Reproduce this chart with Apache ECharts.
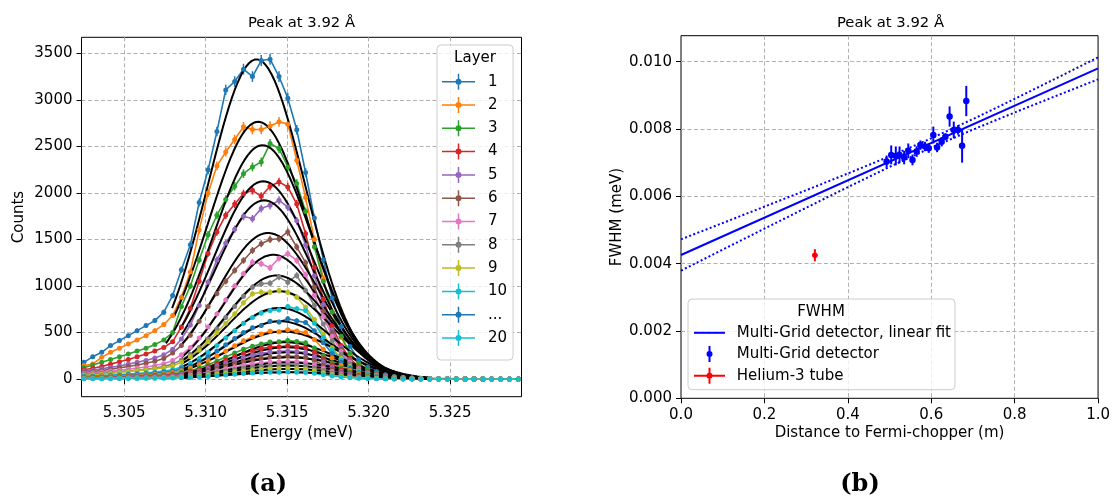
<!DOCTYPE html>
<html>
<head>
<meta charset="utf-8">
<title>Peak at 3.92 Å</title>
<script src="https://cdn.jsdelivr.net/npm/echarts@6.0.0/dist/echarts.min.js"></script>
<style>
html, body { margin: 0; padding: 0; background: #ffffff; }
#chart { width: 1113px; height: 500px; }
</style>
</head>
<body>
<div id="chart"></div>
<script>
// ---------- Panel (a): counts per layer versus energy ----------
const energies = [
  5.30253, 5.30307, 5.30362, 5.30416, 5.30471, 5.30525, 5.30579, 5.30634, 5.30688, 5.30743,
  5.30797, 5.30851, 5.30906, 5.30960, 5.31015, 5.31069, 5.31123, 5.31178, 5.31232, 5.31287,
  5.31341, 5.31395, 5.31450, 5.31504, 5.31559, 5.31613, 5.31667, 5.31722, 5.31776, 5.31831,
  5.31885, 5.31939, 5.31994, 5.32048, 5.32103, 5.32157, 5.32211, 5.32266, 5.32320, 5.32375,
  5.32429, 5.32483, 5.32538, 5.32592, 5.32647, 5.32701, 5.32755, 5.32810, 5.32864, 5.32919
];

const layer1Counts = [179,240,287,359,413,466,520,574,628,718, 897,1174,1442,1897,2248,2660,3107,3197,3330,3250, 3422,3437,3250,3018,2678,2219,1729,1281,870,565, 350,207,129,82,46,28,18,12,8,6, 5,4,3,3,2,2,2,1,1,1];
const layer2Counts = [144,162,233,287,330,377,420,466,520,585, 682,880,1150,1600,2000,2290,2440,2574,2710,2681, 2681,2717,2764,2739,2351,1950,1500,1080,720,450, 270,160,95,58,35,22,14,9,6,4, 3,3,2,2,2,1,1,1,1,1];
const layer3Counts = [122,150,180,210,240,270,300,330,370,420, 500,780,1000,1280,1550,1760,1930,2071,2207,2279, 2333,2530,2477,2279,2100,1800,1420,1050,720,460, 280,170,100,62,38,24,15,10,6,4, 3,3,2,2,2,1,1,1,1,1];
const layer4Counts = [100,115,135,160,185,210,240,270,300,340, 400,560,760,1050,1350,1580,1760,1880,1990,2028, 1963,2071,2118,2064,1880,1560,1200,860,570,360, 220,130,78,48,30,19,12,8,5,4, 3,2,2,2,1,1,1,1,1,1];
const layer5Counts = [85,95,110,125,140,160,180,200,225,260, 320,430,580,790,1040,1280,1460,1610,1748,1723, 1831,1866,1920,1848,1700,1440,1110,800,530,335, 205,122,74,45,28,18,11,7,5,3, 2,2,2,1,1,1,1,1,1,1];
const layer6Counts = [70,80,90,105,120,135,150,170,190,220, 280,360,470,620,780,920,1050,1167,1274,1382, 1454,1500,1508,1580,1418,1250,990,730,500,320, 198,120,73,45,28,18,11,7,5,3, 2,2,2,1,1,1,1,1,1,1];
const layer7Counts = [60,68,76,85,95,105,118,130,145,165, 200,260,340,440,560,700,850,1000,1130,1256, 1238,1195,1299,1346,1274,1120,900,670,460,295, 182,110,66,40,25,16,10,6,4,3, 2,2,1,1,1,1,1,1,1,1];
const layer8Counts = [50,55,62,70,78,86,95,105,118,135, 160,205,265,340,430,540,660,780,890,987, 1023,1030,1095,1041,1113,951,790,590,410,265, 165,100,60,37,23,15,9,6,4,3, 2,2,1,1,1,1,1,1,1,1];
const layer9Counts = [40,45,52,60,70,80,90,100,110,120, 140,180,240,310,400,500,600,700,820,915, 933,933,951,933,879,772,640,480,335,220, 138,85,52,32,20,13,8,5,4,3, 2,1,1,1,1,1,1,1,1,1];
const layer10Counts = [30,33,37,42,47,53,60,67,75,85, 100,130,170,220,285,360,440,520,600,660, 710,736,743,779,754,736,600,450,315,205, 128,78,48,30,19,12,8,5,3,2, 2,1,1,1,1,1,1,1,1,1];
const layer11Counts = [26,28,31,35,40,45,51,56,63,72, 84,109,141,186,240,301,368,435,499,550, 575,620,612,648,625,608,518,390,275,179, 112,68,42,26,17,11,7,4,3,2, 1,1,1,1,1,1,1,0,0,0];
const layer12Counts = [21,23,26,29,33,37,41,46,52,59, 69,89,116,152,197,247,302,357,410,452, 483,512,508,530,515,499,425,320,226,147, 92,56,35,22,14,9,6,4,3,2, 1,1,1,1,1,1,0,0,0,0];
const layer13Counts = [16,18,20,23,25,29,32,36,41,46, 54,70,90,119,154,193,236,279,320,353, 377,398,400,414,402,390,332,250,176,115, 72,44,27,17,11,7,5,3,2,1, 1,1,1,0,0,0,0,0,0,0];
const layer14Counts = [14,16,17,20,22,25,28,31,35,40, 47,60,78,103,133,167,204,241,277,305, 327,345,346,358,348,337,288,217,153,99, 62,38,23,15,9,6,4,2,2,1, 1,1,0,0,0,0,0,0,0,0];
const layer15Counts = [12,13,15,17,19,21,24,26,30,34, 40,51,66,87,113,141,173,204,234,258, 276,290,294,302,295,285,243,183,129,84, 53,32,20,12,8,5,3,2,2,1, 1,0,0,0,0,0,0,0,0,0];
const layer16Counts = [10,11,12,13,15,17,19,22,24,27, 32,42,54,71,92,115,141,167,191,211, 225,237,239,247,241,233,198,149,105,69, 43,26,16,10,6,4,3,2,1,1, 0,0,0,0,0,0,0,0,0,0];
const layer17Counts = [8,8,9,10,12,13,15,17,19,21, 25,32,42,55,71,89,109,129,148,163, 175,183,186,191,187,181,154,116,82,53, 33,20,13,8,5,3,2,1,1,0, 0,0,0,0,0,0,0,0,0,0];
const layer18Counts = [6,7,7,8,9,11,12,13,15,17, 20,26,33,44,56,71,86,102,117,129, 138,145,147,151,148,143,122,92,65,42, 26,16,10,6,4,3,2,1,1,0, 0,0,0,0,0,0,0,0,0,0];
const layer19Counts = [4,5,5,6,7,8,9,10,11,13, 15,19,25,32,42,53,64,76,87,96, 103,108,110,112,111,106,91,68,48,31, 20,12,7,5,3,2,1,1,0,0, 0,0,0,0,0,0,0,0,0,0];
const layer20Counts = [3,3,4,4,5,5,6,7,7,8, 10,13,17,22,28,35,43,51,59,65, 69,72,74,75,74,71,61,46,32,21, 13,8,5,3,2,1,1,1,0,0, 0,0,0,0,0,0,0,0,0,0];

const layerCounts = [
  layer1Counts, layer2Counts, layer3Counts, layer4Counts, layer5Counts,
  layer6Counts, layer7Counts, layer8Counts, layer9Counts, layer10Counts,
  layer11Counts, layer12Counts, layer13Counts, layer14Counts, layer15Counts,
  layer16Counts, layer17Counts, layer18Counts, layer19Counts, layer20Counts
];
const layerNames = ['1','2','3','4','5','6','7','8','9','10','11','12','13','14','15','16','17','18','19','20'];
const tab10 = ['#1f77b4','#ff7f0e','#2ca02c','#d62728','#9467bd','#8c564b','#e377c2','#7f7f7f','#bcbd22','#17becf'];
const legendLayers = ['1','2','3','4','5','6','7','8','9','10','...','20'];

// Gaussian fit of each layer's peak (amplitude in counts, centre in meV, fit window)
const fitAmplitude = [3435, 2764, 2513, 2125, 1920, 1569, 1335, 1113, 944, 764, 621, 510, 395, 341, 287, 233, 179, 144, 108, 72];
const fitCentre = [5.31312, 5.31322, 5.31349, 5.31353, 5.31359, 5.31383, 5.31414, 5.31435, 5.31451, 5.31451,
                   5.31455, 5.31475, 5.31490, 5.31495, 5.31500, 5.31500, 5.31505, 5.31505, 5.31510, 5.31510];
const fitStart = [5.30794, 5.30807, 5.30756, 5.30842, 5.30852, 5.30852, 5.30852, 5.30852, 5.30852, 5.30852,
                  5.30852, 5.30852, 5.30852, 5.30852, 5.30852, 5.30852, 5.30852, 5.30852, 5.30852, 5.30852];
const fitEnd = 5.32365;

// ---------- Panel (b): FWHM versus distance to the Fermi chopper ----------
const mgDistance = [0.493, 0.504, 0.515, 0.524, 0.535, 0.545, 0.555, 0.565, 0.574, 0.585,
                    0.594, 0.605, 0.614, 0.625, 0.634, 0.644, 0.654, 0.664, 0.674, 0.684];
// fitted FWHM of layers 1..20 (meV); these are also the widths of the fits in panel (a)
const mgFwhm = [0.00703, 0.00723, 0.00720, 0.00723, 0.00715, 0.00735, 0.00708, 0.00733, 0.00752, 0.00748,
                0.00743, 0.00782, 0.00745, 0.00762, 0.00777, 0.00837, 0.00797, 0.00797, 0.00750, 0.00883];
const mgFwhmErr = [0.00018, 0.00028, 0.00028, 0.00025, 0.00020, 0.00022, 0.00016, 0.00016, 0.00014, 0.00014,
                   0.00014, 0.00025, 0.00014, 0.00014, 0.00010, 0.00030, 0.00025, 0.00014, 0.00050, 0.00045];
const heDistance = [0.321];
const heDistanceErr = [0.006];
const heFwhm = [0.00425];
const heFwhmErr = [0.00018];

const linearFitX = [0, 1];
const linearFitY = [0.004257, 0.0098];
const bandX = [0, 0.1, 0.2, 0.3, 0.4, 0.5, 0.6, 0.7, 0.8, 0.9, 1.0];
const bandUpper = [0.004722, 0.005206, 0.005693, 0.006181, 0.006676, 0.007185, 0.007721, 0.008293, 0.008893, 0.009507, 0.010127];
const bandLower = [0.003792, 0.004416, 0.005039, 0.005659, 0.006272, 0.006873, 0.007445, 0.007981, 0.008489, 0.008985, 0.009473];

// ---------- tick labels ----------
const energyTicks = [5.305, 5.310, 5.315, 5.320, 5.325];
const countTicks = [0, 500, 1000, 1500, 2000, 2500, 3000, 3500];
const distanceTicks = [0, 0.2, 0.4, 0.6, 0.8, 1.0];
const fwhmTicks = [0, 0.002, 0.004, 0.006, 0.008, 0.010];

// ---------- helpers ----------
const FONT = 'DejaVu Sans';
const FS = 15;

function splitLines(showMin, showMax) {
  return { show: true, showMinLine: showMin, showMaxLine: showMax, lineStyle: { color: '#b0b0b0', width: 1, type: [4, 2.5] } };
}

function valueAxis(gridIndex, min, max, ticks, fmt, name, nameGap, split) {
  return {
    type: 'value', gridIndex, min, max, name,
    nameLocation: 'middle', nameGap, nameMoveOverlap: false,
    nameTextStyle: { fontFamily: FONT, fontSize: FS, color: '#000' },
    axisLine: { show: false },
    axisTick: { show: true, inside: false, length: 5, lineStyle: { color: '#000', width: 1 }, customValues: ticks },
    axisLabel: { show: true, customValues: ticks, formatter: fmt, margin: 9, fontFamily: FONT, fontSize: FS, color: '#000' },
    splitLine: split
  };
}

function errorBars(name, xAxisIndex, yAxisIndex, rows, color, width) {
  return {
    type: 'custom', name, xAxisIndex, yAxisIndex, silent: true, animation: false,
    data: rows, encode: { x: 0, y: 1 },
    renderItem(params, api) {
      const x = api.value(0), y = api.value(1), ex = api.value(2), ey = api.value(3);
      const children = [];
      if (ey > 0) {
        const a = api.coord([x, y - ey]), b = api.coord([x, y + ey]);
        children.push({ type: 'line', shape: { x1: a[0], y1: a[1], x2: b[0], y2: b[1] }, style: { stroke: color, lineWidth: width } });
      }
      if (ex > 0) {
        const a = api.coord([x - ex, y]), b = api.coord([x + ex, y]);
        children.push({ type: 'line', shape: { x1: a[0], y1: a[1], x2: b[0], y2: b[1] }, style: { stroke: color, lineWidth: width } });
      }
      return { type: 'group', children };
    }
  };
}

// sampled Gaussian fit curve of one layer
function fitCurve(i) {
  const sigma = mgFwhm[i] / 2.35482;
  const pts = [];
  const n = 90;
  for (let j = 0; j <= n; j++) {
    const e = fitStart[i] + (fitEnd - fitStart[i]) * j / n;
    const z = (e - fitCentre[i]) / sigma;
    pts.push([e, fitAmplitude[i] * Math.exp(-0.5 * z * z)]);
  }
  return pts;
}

// legend glyphs: errorbar with line, errorbar only, plain line
const iconLayer = 'path://M0,7.25 L33,7.25 L33,8.75 L0,8.75 Z M15.75,0 L17.25,0 L17.25,16 L15.75,16 Z M13.5,8 A3,3 0 1 1 19.5,8 A3,3 0 1 1 13.5,8 Z';
const iconCross = 'path://M0,7 L31,7 L31,9 L0,9 Z M14.5,0 L16.5,0 L16.5,16 L14.5,16 Z M12.5,8 A3,3 0 1 1 18.5,8 A3,3 0 1 1 12.5,8 Z';
const iconBar = 'path://M14.5,0 L16.5,0 L16.5,16 L14.5,16 Z M12.5,8 A3,3 0 1 1 18.5,8 A3,3 0 1 1 12.5,8 Z';
const iconLine = 'path://M0,7 L31,7 L31,9 L0,9 Z';

// ---------- series ----------
const series = [];
layerCounts.forEach((counts, i) => {
  const color = tab10[i % 10];
  const points = energies.map((e, k) => [e, counts[k]]);
  const poissonRows = energies.map((e, k) => [e, counts[k], 0, Math.sqrt(counts[k])]);
  series.push(errorBars('layer ' + layerNames[i] + ' error', 0, 0, poissonRows, color, 1.5));
  series.push({
    type: 'line', name: layerNames[i], xAxisIndex: 0, yAxisIndex: 0, data: points,
    color, lineStyle: { color, width: 1.6 }, itemStyle: { color },
    symbol: 'circle', symbolSize: 5, showSymbol: true, showAllSymbol: true,
    silent: true, animation: false
  });
});
layerCounts.forEach((counts, i) => {
  series.push({
    type: 'line', name: 'fit ' + layerNames[i], xAxisIndex: 0, yAxisIndex: 0, data: fitCurve(i),
    showSymbol: false, symbol: 'none', lineStyle: { color: '#000', width: 2 }, itemStyle: { color: '#000' },
    silent: true, animation: false
  });
});
// legend entry standing for layers 11-19
series.push({ type: 'line', name: '...', xAxisIndex: 0, yAxisIndex: 0, data: [], color: tab10[0], itemStyle: { color: tab10[0] } });

const blue = '#0000ff', red = '#ff0000';
series.push({
  type: 'line', name: 'upper band', xAxisIndex: 1, yAxisIndex: 1,
  data: bandX.map((x, j) => [x, bandUpper[j]]), showSymbol: false, symbol: 'none',
  lineStyle: { color: blue, width: 2, type: [2, 2.4] }, silent: true, animation: false
});
series.push({
  type: 'line', name: 'lower band', xAxisIndex: 1, yAxisIndex: 1,
  data: bandX.map((x, j) => [x, bandLower[j]]), showSymbol: false, symbol: 'none',
  lineStyle: { color: blue, width: 2, type: [2, 2.4] }, silent: true, animation: false
});
series.push({
  type: 'line', name: 'Multi-Grid detector, linear fit', xAxisIndex: 1, yAxisIndex: 1,
  data: linearFitX.map((x, j) => [x, linearFitY[j]]), showSymbol: false, symbol: 'none',
  color: blue, itemStyle: { color: blue }, lineStyle: { color: blue, width: 2 }, silent: true, animation: false
});
series.push(errorBars('Multi-Grid error', 1, 1, mgDistance.map((x, j) => [x, mgFwhm[j], 0, mgFwhmErr[j]]), blue, 2));
series.push({
  type: 'scatter', name: 'Multi-Grid detector', xAxisIndex: 1, yAxisIndex: 1,
  data: mgDistance.map((x, j) => [x, mgFwhm[j]]), symbol: 'circle', symbolSize: 6.5,
  color: blue, itemStyle: { color: blue, opacity: 1 }, silent: true, animation: false
});
series.push(errorBars('Helium-3 error', 1, 1, heDistance.map((x, j) => [x, heFwhm[j], heDistanceErr[j], heFwhmErr[j]]), red, 2));
series.push({
  type: 'scatter', name: 'Helium-3 tube', xAxisIndex: 1, yAxisIndex: 1,
  data: heDistance.map((x, j) => [x, heFwhm[j]]), symbol: 'circle', symbolSize: 5.5,
  color: red, itemStyle: { color: red, opacity: 1 }, silent: true, animation: false
});

const textEl = (x, y, text, size, extra) => ({
  type: 'text', x, y, z: 100, silent: true,
  style: Object.assign({ text, fontFamily: FONT, fontSize: size, fill: '#000', align: 'center', verticalAlign: 'middle' }, extra || {})
});

const option = {
  animation: false,
  backgroundColor: '#ffffff',
  textStyle: { fontFamily: FONT },
  grid: [
    { left: 81.5, top: 37.3, width: 440, height: 359.4, show: true, borderColor: '#000', borderWidth: 1, backgroundColor: 'transparent' },
    { left: 681, top: 35.7, width: 419, height: 362.6, show: true, borderColor: '#000', borderWidth: 1, backgroundColor: 'transparent' }
  ],
  xAxis: [
    valueAxis(0, 5.30238, 5.32938, energyTicks, v => v.toFixed(3), 'Energy (meV)', 29, splitLines(true, true)),
    valueAxis(1, 0, 1, distanceTicks, v => v.toFixed(1), 'Distance to Fermi-chopper (m)', 27, splitLines(false, false))
  ],
  yAxis: [
    valueAxis(0, -190, 3672, countTicks, v => String(v), 'Counts', 55, splitLines(true, true)),
    valueAxis(1, 0, 0.01077, fwhmTicks, v => v.toFixed(3), 'FWHM (meV)', 56, splitLines(false, true))
  ],
  legend: [
    {
      data: legendLayers, orient: 'vertical', left: 437, top: 45,
      itemWidth: 33, itemHeight: 16, itemGap: 7.3, icon: iconLayer, symbolKeepAspect: true,
      padding: [28.7, 6, 14, 5], backgroundColor: 'rgba(255,255,255,0.8)',
      borderColor: '#cccccc', borderWidth: 1, borderRadius: 4, selectedMode: false,
      itemStyle: { borderWidth: 0 },
      textStyle: { fontFamily: FONT, fontSize: FS, color: '#000', padding: [0, 0, 0, 8] }
    },
    {
      data: [
        { name: 'Multi-Grid detector, linear fit', icon: iconLine },
        { name: 'Multi-Grid detector', icon: iconBar },
        { name: 'Helium-3 tube', icon: iconCross }
      ],
      orient: 'vertical', left: 688, top: 299,
      itemWidth: 31, itemHeight: 16, itemGap: 5.7, symbolKeepAspect: true,
      padding: [26.3, 4, 6, 6], backgroundColor: 'rgba(255,255,255,0.8)',
      borderColor: '#cccccc', borderWidth: 1, borderRadius: 4, selectedMode: false,
      itemStyle: { borderWidth: 0 },
      textStyle: { fontFamily: FONT, fontSize: FS, color: '#000', padding: [0, 0, 0, 6.7] }
    }
  ],
  graphic: [
    textEl(301.5, 23.5, 'Peak at 3.92 Å', 14.8),
    textEl(890.5, 23.5, 'Peak at 3.92 Å', 14.8),
    textEl(475, 58.3, 'Layer', FS),
    textEl(821, 311.7, 'FWHM', FS),
    textEl(268, 485, '(a)', 24, { fontFamily: 'DejaVu Serif', fontWeight: 'bold' }),
    textEl(860, 485, '(b)', 24, { fontFamily: 'DejaVu Serif', fontWeight: 'bold' })
  ],
  series
};

const chart = echarts.init(document.getElementById('chart'), null, { renderer: 'canvas' });
chart.setOption(option);
</script>
</body>
</html>
